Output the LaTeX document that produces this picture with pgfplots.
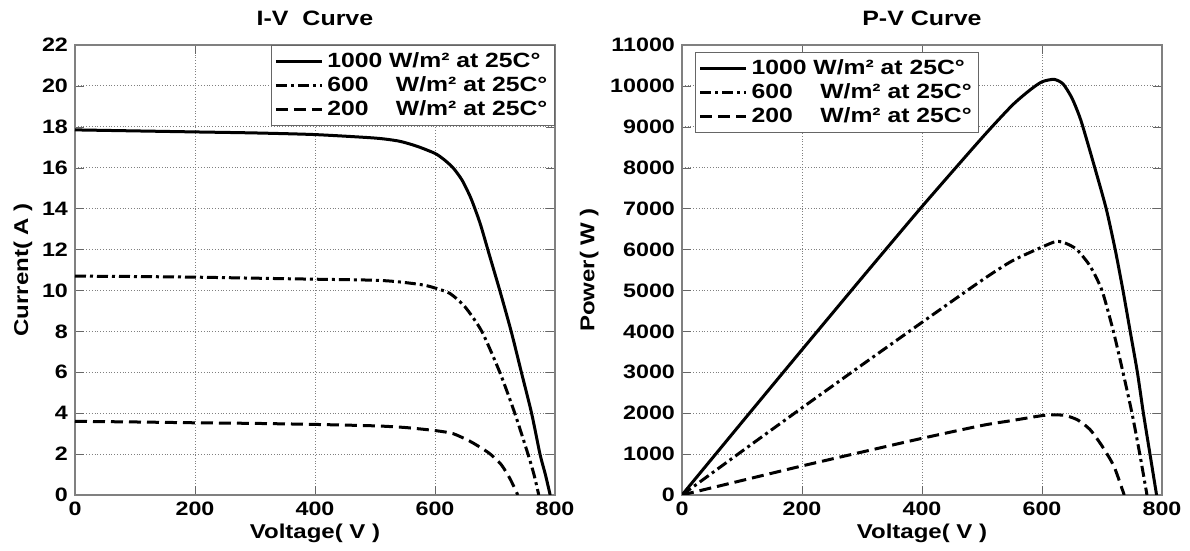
\documentclass[border=0pt]{standalone}
\usepackage{fontspec}
\setmainfont{Liberation Sans}[FakeStretch=1.2]
\usepackage{pgfplots}
\pgfplotsset{compat=1.18}

\newcommand{\ff}{\fontsize{9.7}{11}\selectfont\bfseries}
\newcommand{\fl}{\fontsize{10.3}{12}\selectfont\bfseries}
\pgfplotsset{mystyle/.style={
  width=240pt, height=225pt, scale only axis,
  xmin=0, xmax=800, xtick={0,200,...,800},
  grid=major, major grid style={black!50, densely dotted, line width=0.45pt},
  axis line style={black!50, line width=0.7pt},
  tick style={black!60},
  tick align=inside,
  tick label style={font=\ff},
  /pgf/number format/assume math mode=true,
  /pgf/number format/set thousands separator={},
  label style={font=\fontsize{10}{12}\selectfont\bfseries},
  xlabel style={yshift=3pt},
  title style={font=\fontsize{10.4}{12}\selectfont\bfseries},
  legend style={font=\fl, draw=black!60, line width=0.6pt, inner sep=1.5pt, row sep=-1pt},
  legend cell align=left,
  legend image code/.code={\draw[##1] (0pt,0pt) -- (23pt,0pt);},
  s1/.style={black, line width=1.5pt, solid, smooth, tension=0.4},
  s2/.style={black, line width=1.5pt, dash pattern=on 5.5pt off 2pt on 1.5pt off 2pt, smooth, tension=0.4},
  s3/.style={black, line width=1.5pt, dash pattern=on 6pt off 3pt, smooth, tension=0.4},
}}

\begin{document}
\begin{tikzpicture}
\useasboundingbox (-37.5pt,-28pt) rectangle (557.5pt,247.5pt);
\begin{axis}[mystyle, at={(0pt,0pt)}, anchor=south west,
  ymin=0, ymax=22, ytick={0,2,...,22},
  title={I-V\ \ Curve}, xlabel={Voltage( V )}, ylabel={Current( A )},
  ylabel style={yshift=-2pt},
  legend style={at={(rel axis cs:1,1)}, anchor=north east}]
\addplot[s1] coordinates {(0,17.85)(100,17.8)(200,17.75)(300,17.7)(400,17.62)(500,17.45)(540,17.3)(570,17.05)(600,16.7)(615,16.4)(630,16.0)(645,15.4)(660,14.5)(675,13.3)(690,11.8)(708,10)(727,8)(744,6)(761,4)(775,2)(784,1)(792,0)};
\addplot[s2] coordinates {(0,10.7)(100,10.68)(200,10.65)(300,10.6)(400,10.55)(500,10.5)(540,10.42)(580,10.27)(600,10.12)(625,9.85)(650,9.2)(678,8)(708,6)(733,4)(755,2)(765,1)(773,0)};
\addplot[s3] coordinates {(0,3.6)(100,3.57)(200,3.53)(300,3.5)(400,3.45)(500,3.38)(550,3.3)(600,3.15)(630,3.0)(660,2.6)(690,2.05)(710,1.5)(725,0.8)(738,0)};
\legend{1000 W/m² at 25C°, 600\hphantom{0}\ \ W/m² at 25C°, 200\hphantom{0}\ \ W/m² at 25C°}
\end{axis}
\begin{axis}[mystyle, at={(303.5pt,0pt)}, anchor=south west,
  ymin=0, ymax=11000, ytick={0,1000,...,11000},
  scaled y ticks=false,
  title={P-V Curve}, xlabel={Voltage( V )}, ylabel={Power( W )},
  ylabel style={yshift=-1pt},
  legend style={at={(rel axis cs:0,1)}, anchor=north west, xshift=6.5pt, yshift=-3.5pt}]
\addplot[s1] coordinates {(0,0)(100,1780)(200,3550)(300,5310)(400,7050)(500,8730)(550,9520)(580,9900)(600,10100)(620,10160)(635,10050)(650,9700)(665,9150)(688,8000)(707,7000)(722,6000)(735,5000)(747,4000)(759,3000)(769,2000)(780,1000)(791,0)};
\addplot[s2] coordinates {(0,0)(100,1070)(200,2130)(300,3180)(400,4220)(500,5250)(550,5720)(600,6060)(624,6200)(640,6150)(658,6000)(680,5600)(700,5000)(719,4000)(735,3000)(750,2000)(763,1000)(775,0)};
\addplot[s3] coordinates {(0,0)(100,355)(200,710)(300,1050)(400,1385)(500,1700)(550,1820)(600,1940)(620,1960)(640,1940)(660,1830)(680,1600)(700,1200)(720,700)(737,0)};
\legend{1000 W/m² at 25C°, 600\hphantom{0}\ \ W/m² at 25C°, 200\hphantom{0}\ \ W/m² at 25C°}
\end{axis}
\end{tikzpicture}
\end{document}
